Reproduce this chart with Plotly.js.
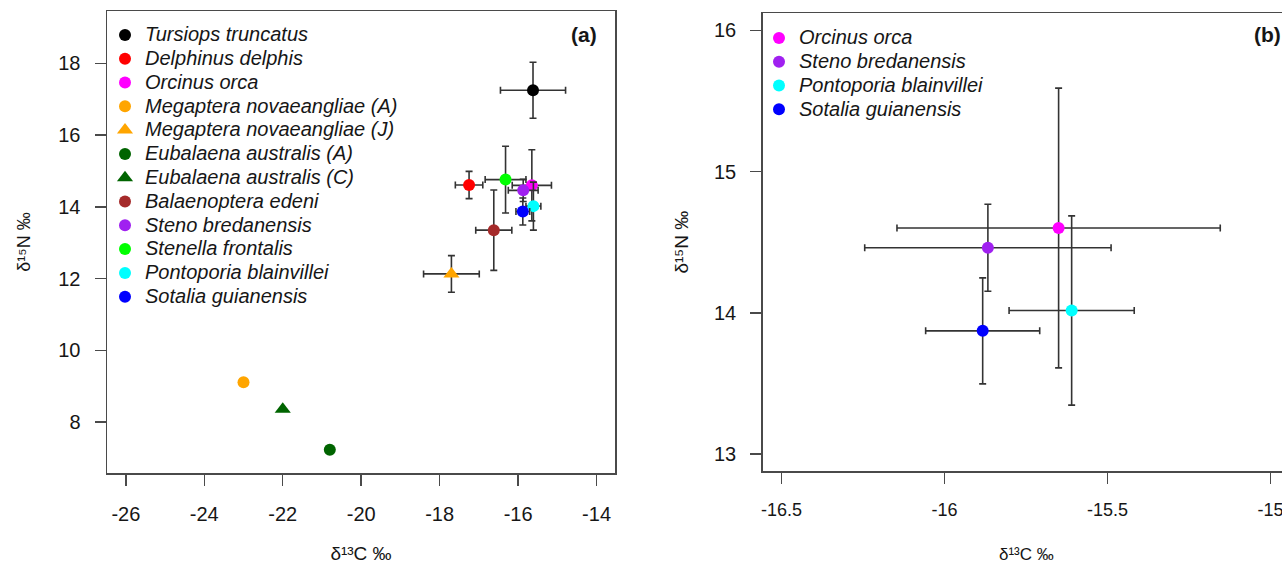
<!DOCTYPE html>
<html>
<head>
<meta charset="utf-8">
<script src="https://cdn.plot.ly/plotly-3.0.1.min.js"></script>
<style>
html, body { margin: 0; padding: 0; overflow: hidden; background: #fff; }
#chart { width: 1300px; height: 564px; }
</style>
</head>
<body>
<div id="chart"></div>
<script>
// ---------- Panel (a) data ----------
const speciesA = ["Tursiops truncatus", "Delphinus delphis", "Orcinus orca",
  "Megaptera novaeangliae (A)", "Megaptera novaeangliae (J)",
  "Eubalaena australis (A)", "Eubalaena australis (C)", "Balaenoptera edeni",
  "Steno bredanensis", "Stenella frontalis", "Pontoporia blainvillei", "Sotalia guianensis"];
const colorsA = ["#000000", "#FF0000", "#FF00FF", "#FFA500", "#FFA500", "#006400",
  "#006400", "#A52A2A", "#A020F0", "#00FF00", "#00FFFF", "#0000FF"];
const symbolsA = ["circle", "circle", "circle", "circle", "triangle-up", "circle",
  "triangle-up", "circle", "circle", "circle", "circle", "circle"];
const d13C_A = [-15.62, -17.25, -15.65, -23.00, -17.70, -20.80, -22.00, -16.62, -15.87, -16.32, -15.61, -15.88];
const d15N_A = [17.25, 14.61, 14.60, 9.11, 12.13, 7.23, 8.36, 13.35, 14.46, 14.76, 14.02, 13.87];
const sdC_A = [0.83, 0.35, 0.50, null, 0.71, null, null, 0.46, 0.38, 0.52, 0.19, 0.175];
const sdN_A = [0.78, 0.38, 0.99, null, 0.51, null, null, 1.12, 0.31, 0.93, 0.67, 0.375];

// ---------- Panel (b) data ----------
const speciesB = ["Orcinus orca", "Steno bredanensis", "Pontoporia blainvillei", "Sotalia guianensis"];
const colorsB = ["#FF00FF", "#A020F0", "#00FFFF", "#0000FF"];
const d13C_B = [-15.65, -15.867, -15.61, -15.883];
const d15N_B = [14.60, 14.46, 14.016, 13.872];
const sdC_B = [0.496, 0.378, 0.192, 0.175];
const sdN_B = [0.99, 0.308, 0.67, 0.375];

// ---------- Ticks ----------
const xTicksA = [-26, -24, -22, -20, -18, -16, -14];
const xTickTextA = ["-26", "-24", "-22", "-20", "-18", "-16", "-14"];
const yTicksA = [8, 10, 12, 14, 16, 18];
const yTickTextA = ["8", "10", "12", "14", "16", "18"];
const xTicksB = [-16.5, -16, -15.5, -15];
const xTickTextB = ["-16.5", "-16", "-15.5", "-15"];
const yTicksB = [13, 14, 15, 16];
const yTickTextB = ["13", "14", "15", "16"];

const xTitle = 'δ¹³C ‰';
const yTitle = 'δ¹⁵N ‰';

const FONT = '"Liberation Sans", Arial, sans-serif';
const TXT = '#161616';
const AX = '#4a4a4a';
const ERR = '#333333';
const W = 1300, H = 564;

function legendName(s) {
  return '<span style="font-size:20px"><i>' + s + '</i></span>';
}

const traces = [];
speciesA.forEach(function (name, i) {
  const hasErr = sdC_A[i] !== null;
  traces.push({
    type: 'scatter', mode: 'markers', xaxis: 'x', yaxis: 'y', legend: 'legend',
    name: legendName(name),
    x: [d13C_A[i]], y: [d15N_A[i]],
    marker: { color: colorsA[i], symbol: symbolsA[i], size: symbolsA[i] === 'circle' ? 12 : 14 },
    error_x: { type: 'data', array: [sdC_A[i]], visible: hasErr, color: ERR, thickness: 1.6, width: 3.5 },
    error_y: { type: 'data', array: [sdN_A[i]], visible: hasErr, color: ERR, thickness: 1.6, width: 3.5 }
  });
});
speciesB.forEach(function (name, i) {
  traces.push({
    type: 'scatter', mode: 'markers', xaxis: 'x2', yaxis: 'y2', legend: 'legend2',
    name: legendName(name),
    x: [d13C_B[i]], y: [d15N_B[i]],
    marker: { color: colorsB[i], symbol: 'circle', size: 12 },
    error_x: { type: 'data', array: [sdC_B[i]], color: ERR, thickness: 1.6, width: 3.5 },
    error_y: { type: 'data', array: [sdN_B[i]], color: ERR, thickness: 1.6, width: 3.5 }
  });
});

function axisBase(extra) {
  return Object.assign({
    showgrid: false, zeroline: false, showline: true, mirror: true,
    linecolor: AX, linewidth: 1.5,
    ticks: 'outside', ticklen: 11, tickwidth: 1.5, tickcolor: AX,
    tickmode: 'array', fixedrange: true
  }, extra);
}

const layout = {
  width: W, height: H,
  margin: { l: 0, r: 0, t: 0, b: 0 },
  paper_bgcolor: '#ffffff', plot_bgcolor: '#ffffff',
  font: { family: FONT, color: TXT },
  showlegend: true,
  xaxis: axisBase({
    domain: [107 / W, 615 / W], range: [-26.48, -13.53], anchor: 'y',
    tickvals: xTicksA, ticktext: xTickTextA,
    tickfont: { size: 20, family: FONT, color: TXT }, ticklabelstandoff: 11,
    title: { text: xTitle, font: { size: 19, family: FONT, color: TXT }, standoff: 30 }
  }),
  yaxis: axisBase({
    domain: [1 - 473 / H, 1 - 11 / H], range: [6.58, 19.46], anchor: 'x',
    tickvals: yTicksA, ticktext: yTickTextA,
    tickfont: { size: 20, family: FONT, color: TXT }, ticklabelstandoff: 10,
    title: { text: yTitle, font: { size: 18, family: FONT, color: TXT }, standoff: 23 }
  }),
  xaxis2: axisBase({
    domain: [762.7 / W, 1290 / W], range: [-16.558, -14.94], anchor: 'y2',
    tickvals: xTicksB, ticktext: xTickTextB,
    tickfont: { size: 18, family: FONT, color: TXT }, ticklabelstandoff: 11,
    title: { text: xTitle, font: { size: 17, family: FONT, color: TXT }, standoff: 30 }
  }),
  yaxis2: axisBase({
    domain: [1 - 471 / H, 1 - 13.3 / H], range: [12.88, 16.12], anchor: 'x2',
    tickvals: yTicksB, ticktext: yTickTextB,
    tickfont: { size: 20, family: FONT, color: TXT }, ticklabelstandoff: 10,
    title: { text: yTitle, font: { size: 19, family: FONT, color: TXT }, standoff: 20 }
  }),
  legend: {
    x: 105 / W, y: 1 - 18 / H, xanchor: 'left', yanchor: 'top',
    bgcolor: 'rgba(0,0,0,0)', borderwidth: 0, tracegroupgap: 0,
    font: { size: 16, family: FONT, color: TXT }
  },
  legend2: {
    x: 759 / W, y: 1 - 21 / H, xanchor: 'left', yanchor: 'top',
    bgcolor: 'rgba(0,0,0,0)', borderwidth: 0, tracegroupgap: 0,
    font: { size: 16, family: FONT, color: TXT }
  },
  annotations: [
    { text: '<b>(a)</b>', xref: 'paper', yref: 'paper', x: 584 / W, y: 1 - 34 / H,
      xanchor: 'center', yanchor: 'middle', showarrow: false, font: { size: 21, family: FONT, color: TXT } },
    { text: '<b>(b)</b>', xref: 'paper', yref: 'paper', x: 1267 / W, y: 1 - 34 / H,
      xanchor: 'center', yanchor: 'middle', showarrow: false, font: { size: 21, family: FONT, color: TXT } }
  ]
};

Plotly.newPlot('chart', traces, layout, { displayModeBar: false, staticPlot: true });
</script>
</body>
</html>
